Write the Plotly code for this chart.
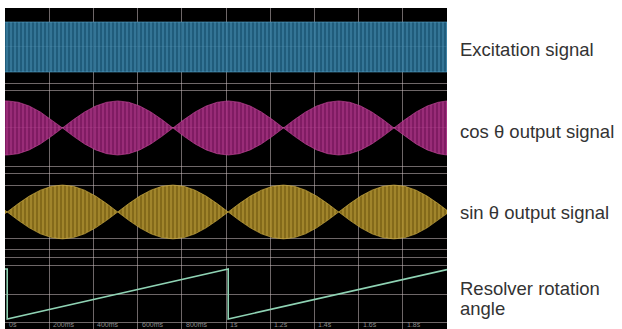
import plotly.graph_objects as go

# sample times (seconds, 200 ms / div)
time_s = [0.00, 0.01, 0.06, 0.11, 0.16, 0.21, 0.26, 0.31, 0.36, 0.41, 0.46,
          0.51, 0.56, 0.61, 0.66, 0.71, 0.76, 0.81, 0.86, 0.91, 0.96,
          1.01, 1.06, 1.11, 1.16, 1.21, 1.26, 1.31, 1.36, 1.41, 1.46,
          1.51, 1.56, 1.61, 1.66, 1.71, 1.76, 1.81, 1.86, 1.91, 1.96, 2.00]

# envelope amplitudes (normalised) of the two output signals
cos_env = [1.00, 1.00, 0.95, 0.81, 0.59, 0.31, 0.00, 0.31, 0.59, 0.81, 0.95,
           1.00, 0.95, 0.81, 0.59, 0.31, 0.00, 0.31, 0.59, 0.81, 0.95,
           1.00, 0.95, 0.81, 0.59, 0.31, 0.00, 0.31, 0.59, 0.81, 0.95,
           1.00, 0.95, 0.81, 0.59, 0.31, 0.00, 0.31, 0.59, 0.81, 0.95, 1.00]
sin_env = [0.06, 0.00, 0.31, 0.59, 0.81, 0.95, 1.00, 0.95, 0.81, 0.59, 0.31,
           0.00, 0.31, 0.59, 0.81, 0.95, 1.00, 0.95, 0.81, 0.59, 0.31,
           0.00, 0.31, 0.59, 0.81, 0.95, 1.00, 0.95, 0.81, 0.59, 0.31,
           0.00, 0.31, 0.59, 0.81, 0.95, 1.00, 0.95, 0.81, 0.59, 0.31, 0.06]

# excitation carrier has a constant envelope
exc_time = [0.00, 2.00]
exc_env = [1.00, 1.00]

# resolver rotation angle (deg), sawtooth with 1 s period
ramp_time = [0.00, 0.01, 0.01, 1.01, 1.01, 2.00]
ramp_deg = [360, 360, 0, 360, 0, 356]

tick_vals = [0.0, 0.2, 0.4, 0.6, 0.8, 1.0, 1.2, 1.4, 1.6, 1.8]
tick_labels = ["0s", "200ms", "400ms", "600ms", "800ms", "1s", "1.2s", "1.4s", "1.6s", "1.8s"]

channel_names = [["Excitation signal"], ["cos θ output signal"], ["sin θ output signal"],
                 ["Resolver rotation", "angle"]]

grid = "rgba(200,188,190,0.55)"
font = "Liberation Sans, Arial, sans-serif"


def envelope(fig, t, env, yref, fg, bg):
    xs = list(t) + list(reversed(t))
    ys = list(env) + [-v for v in reversed(env)]
    fig.add_trace(go.Scatter(
        x=xs, y=ys, yaxis=yref, mode="lines", fill="toself",
        line=dict(color=fg, width=0.6),
        fillpattern=dict(shape="|", size=4, solidity=0.35, fgcolor=fg, bgcolor=bg),
        hoverinfo="skip"))


fig = go.Figure()
envelope(fig, exc_time, exc_env, "y", "#58a2c8", "rgba(36,104,140,0.88)")
envelope(fig, time_s, cos_env, "y2", "#c84a9e", "rgba(146,32,112,0.88)")
envelope(fig, time_s, sin_env, "y3", "#d6b548", "rgba(150,120,30,0.88)")
fig.add_trace(go.Scatter(x=ramp_time, y=ramp_deg, yaxis="y4", mode="lines",
                         line=dict(color="#8fd3b4", width=1.6), hoverinfo="skip"))

ax_common = dict(showticklabels=False, showgrid=True, gridcolor=grid, gridwidth=1,
                 zeroline=False, ticks="", fixedrange=True)

fig.update_layout(
    width=622, height=329,
    margin=dict(l=5, r=175, t=8, b=0),
    paper_bgcolor="white", plot_bgcolor="black",
    showlegend=False,
    font=dict(family=font),
    xaxis=dict(range=[0, 2.0], tickvals=tick_vals, anchor="y4", **ax_common),
    yaxis=dict(domain=[0.7477, 1.0], range=[-1.68, 1.56], tickvals=[1.54, 0, -1.48], **ax_common),
    yaxis2=dict(domain=[0.4922, 0.7477], range=[-1.59, 1.44], tickvals=[1.37, 0, -1.44], **ax_common),
    yaxis3=dict(domain=[0.2336, 0.4922], range=[-1.56, 1.52], tickvals=[1.44, 1.0, -1.0, -1.41], **ax_common),
    yaxis4=dict(domain=[0.0, 0.2336], range=[-72, 468], tickvals=[446, 382, 180, -22], **ax_common),
)

# time labels printed on the scope screen, just right of each division
for v, lab in zip(tick_vals, tick_labels):
    fig.add_annotation(x=v, xref="x", y=0, yref="paper", text=lab, showarrow=False,
                       xanchor="left", yanchor="bottom", xshift=2, yshift=-1,
                       font=dict(size=7, color="#8c8c8c"))

# channel names to the right of the screen (one annotation per text line)
label_shift = [[-3], [-4], [-1], [6, -14]]
for yref, yv, lines, shifts in zip(["y", "y2", "y3", "y4"], [0, 0, 0, 180], channel_names, label_shift):
    for line, ys in zip(lines, shifts):
        fig.add_annotation(x=1.025, xref="paper", y=yv, yref=yref, text=line, showarrow=False,
                           xanchor="left", yanchor="middle", align="left", yshift=ys,
                           font=dict(size=18.5, color="#333333", family=font))

fig.write_html("out.html", config={"displayModeBar": False},
               post_script="document.body.style.margin='0';")
